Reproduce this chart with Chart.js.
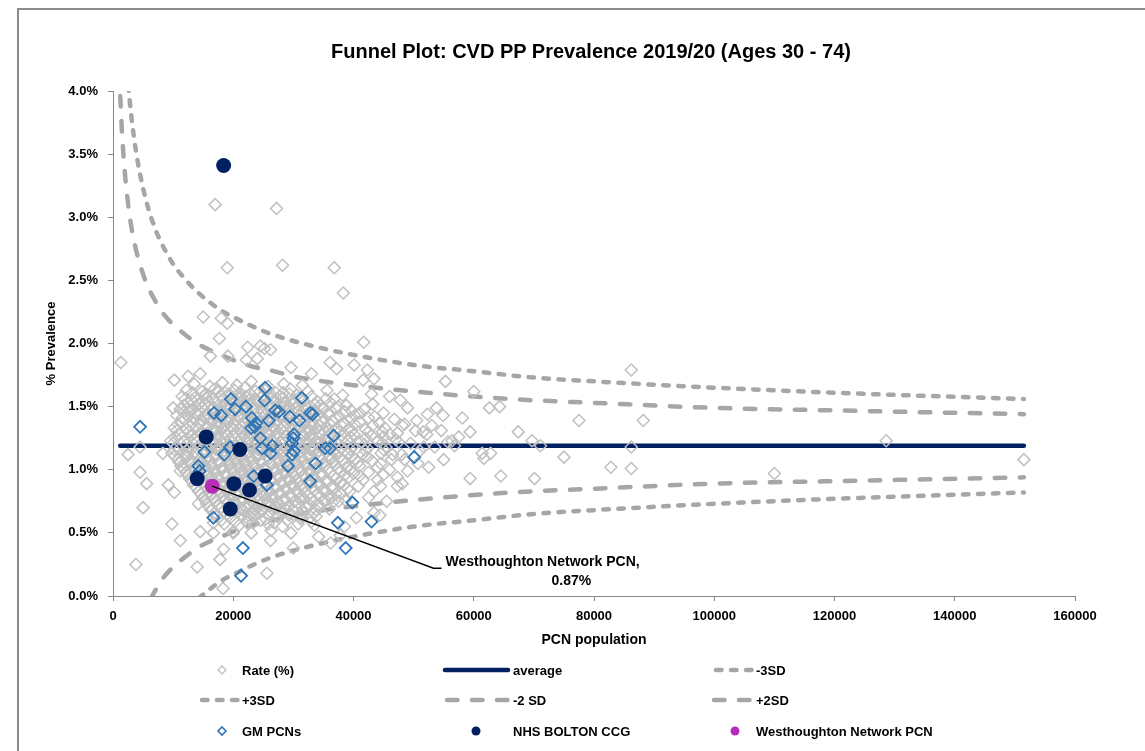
<!DOCTYPE html>
<html>
<head>
<meta charset="utf-8">
<script src="https://cdn.jsdelivr.net/npm/chart.js@4"></script>
<style>
  html, body { margin: 0; padding: 0; background: #fff; }
  #wrap { position: relative; width: 1145px; height: 751px; overflow: hidden; }
  #chart, #ov { position: absolute; left: 0; top: 0; }
  #ov { pointer-events: none; font-family: "Liberation Sans", Arial, sans-serif; }
  #ov text { font-weight: bold; fill: #000; }
</style>
</head>
<body>
<div id="wrap">
  <canvas id="chart" width="1145" height="751"></canvas>
  <svg id="ov" width="1145" height="751">
    <line x1="18" y1="9" x2="18" y2="751" stroke="#8c8c8c" stroke-width="2"/>
    <line x1="17" y1="9" x2="1145" y2="9" stroke="#8c8c8c" stroke-width="2"/>
    <text x="591" y="58" text-anchor="middle" font-size="20">Funnel Plot: CVD PP Prevalence 2019/20 (Ages 30 - 74)</text>
    <g font-size="13" dominant-baseline="central">
      <polygon points="222,666 226,670 222,674 218,670" fill="none" stroke="#bfbfbf" stroke-width="1.3"/>
      <text x="242" y="670">Rate (%)</text>
      <line x1="445" y1="670" x2="508" y2="670" stroke="#002060" stroke-width="4.5" stroke-linecap="round"/>
      <text x="513" y="670">average</text>
      <line x1="716" y1="670" x2="752" y2="670" stroke="#a6a6a6" stroke-width="4.5" stroke-linecap="round" stroke-dasharray="5.5 9.5"/>
      <text x="756" y="670">-3SD</text>

      <line x1="202" y1="700" x2="238" y2="700" stroke="#a6a6a6" stroke-width="4.5" stroke-linecap="round" stroke-dasharray="5.5 9.5"/>
      <text x="242" y="700">+3SD</text>
      <line x1="447" y1="700" x2="509" y2="700" stroke="#a6a6a6" stroke-width="4.5" stroke-linecap="round" stroke-dasharray="10.5 14.5"/>
      <text x="513" y="700">-2 SD</text>
      <line x1="714" y1="700" x2="752" y2="700" stroke="#a6a6a6" stroke-width="4.5" stroke-linecap="round" stroke-dasharray="10.5 14.5"/>
      <text x="756" y="700">+2SD</text>

      <polygon points="222,727 226,731 222,735 218,731" fill="none" stroke="#2e75b6" stroke-width="1.6"/>
      <text x="242" y="731">GM PCNs</text>
      <circle cx="476" cy="731" r="4.5" fill="#002060"/>
      <text x="513" y="731">NHS BOLTON CCG</text>
      <circle cx="735" cy="731" r="4.5" fill="#b82db8"/>
      <text x="756" y="731">Westhoughton Network PCN</text>
    </g>
  </svg>
</div>
<script>
// all x values in thousands of PCN population, y values in % prevalence

const averageRate = 1.19;
const avgX = [1.2, 151.5];

// control limits
const funnelX = [1.2, 1.5, 2, 2.5, 3, 3.5, 4, 5, 6, 7, 8, 9, 10, 12, 14, 16, 18, 20, 23, 26, 30, 35, 40, 50, 60, 70, 80, 100, 120, 151.5];
const plus3 = [5.35, 4.91, 4.41, 4.07, 3.82, 3.63, 3.47, 3.23, 3.05, 2.91, 2.80, 2.71, 2.63, 2.51, 2.41, 2.33, 2.26, 2.21, 2.14, 2.08, 2.02, 1.96, 1.91, 1.83, 1.78, 1.73, 1.70, 1.65, 1.61, 1.56];
const plus2 = [3.96, 3.67, 3.34, 3.11, 2.94, 2.81, 2.71, 2.55, 2.43, 2.34, 2.26, 2.20, 2.15, 2.07, 2.00, 1.95, 1.91, 1.87, 1.82, 1.79, 1.74, 1.70, 1.67, 1.62, 1.58, 1.55, 1.53, 1.49, 1.47, 1.44];
const minus2 = [-1.58, -1.29, -0.96, -0.73, -0.56, -0.43, -0.33, -0.17, -0.05, 0.04, 0.12, 0.18, 0.23, 0.31, 0.38, 0.43, 0.47, 0.51, 0.56, 0.59, 0.64, 0.68, 0.71, 0.76, 0.80, 0.83, 0.85, 0.89, 0.91, 0.94];
const minus3 = [-2.97, -2.53, -2.03, -1.69, -1.44, -1.25, -1.09, -0.85, -0.67, -0.53, -0.42, -0.33, -0.25, -0.13, -0.03, 0.05, 0.12, 0.17, 0.24, 0.30, 0.36, 0.42, 0.47, 0.55, 0.60, 0.65, 0.68, 0.73, 0.77, 0.82];

// all PCNs (England)
const ratePts = [
  // dense core
  [13.5,1.68],[16.1,1.66],[18.2,1.69],[20.6,1.67],[23.0,1.70],[25.8,1.66],[28.4,1.68],[31.5,1.67],
  [12.2,1.63],[14.8,1.62],[16.9,1.64],[18.6,1.61],[20.2,1.63],[21.9,1.65],[23.7,1.62],[25.3,1.63],[27.1,1.61],[29.5,1.64],[32.4,1.62],[35.6,1.63],
  [11.5,1.58],[13.6,1.57],[15.2,1.59],[16.6,1.56],[18.0,1.58],[19.3,1.60],[20.8,1.57],[22.1,1.58],[23.5,1.56],[24.9,1.59],[26.4,1.57],[27.8,1.58],[29.3,1.60],[30.9,1.57],[33.0,1.58],[35.4,1.56],[38.2,1.59],
  [12.4,1.53],[14.3,1.52],[15.8,1.54],[17.2,1.53],[18.7,1.51],[20.1,1.53],[21.5,1.54],[22.8,1.52],[24.2,1.53],[25.6,1.51],[27.1,1.54],[28.5,1.53],[30.0,1.52],[31.6,1.54],[33.5,1.52],[36.2,1.53],[38.8,1.51],
  [11.2,1.48],[13.1,1.47],[14.9,1.49],[16.4,1.48],[17.8,1.46],[19.1,1.48],[20.5,1.49],[21.9,1.47],[23.3,1.48],[24.7,1.46],[26.0,1.49],[27.4,1.48],[28.9,1.47],[30.3,1.49],[31.8,1.48],[33.3,1.46],[35.0,1.48],[37.0,1.49],[39.6,1.47],[41.8,1.48],
  [10.6,1.43],[12.5,1.42],[14.1,1.44],[15.6,1.43],[17.1,1.41],[18.4,1.43],[19.8,1.44],[21.2,1.42],[22.6,1.43],[24.0,1.41],[25.3,1.44],[26.7,1.43],[28.1,1.42],[29.6,1.44],[31.1,1.43],[32.6,1.41],[34.1,1.43],[35.8,1.44],[37.7,1.42],[40.2,1.43],[43.5,1.42],
  [11.4,1.38],[13.3,1.37],[14.8,1.39],[16.3,1.38],[17.7,1.36],[19.1,1.38],[20.4,1.39],[21.8,1.37],[23.2,1.38],[24.6,1.36],[26.0,1.39],[27.3,1.38],[28.8,1.37],[30.2,1.39],[31.7,1.38],[33.2,1.36],[34.8,1.38],[36.5,1.39],[38.4,1.37],[41.0,1.38],[44.3,1.37],
  [10.2,1.33],[12.2,1.32],[13.9,1.34],[15.4,1.33],[16.9,1.31],[18.3,1.33],[19.7,1.34],[21.1,1.32],[22.5,1.33],[23.9,1.31],[25.3,1.34],[26.6,1.33],[28.0,1.32],[29.5,1.34],[30.9,1.33],[32.4,1.31],[33.9,1.33],[35.5,1.34],[37.3,1.32],[39.3,1.33],[42.0,1.32],[45.2,1.33],
  [11.0,1.28],[12.9,1.27],[14.5,1.29],[16.0,1.28],[17.5,1.26],[18.9,1.28],[20.3,1.29],[21.7,1.27],[23.1,1.28],[24.5,1.26],[25.9,1.29],[27.3,1.28],[28.7,1.27],[30.1,1.29],[31.6,1.28],[33.1,1.26],[34.6,1.28],[36.2,1.29],[38.0,1.27],[40.1,1.28],[43.0,1.27],[46.1,1.28],
  [9.6,1.23],[11.8,1.22],[13.6,1.24],[15.2,1.23],[16.7,1.21],[18.1,1.23],[19.5,1.24],[20.9,1.22],[22.3,1.23],[23.7,1.21],[25.1,1.24],[26.5,1.23],[27.9,1.22],[29.3,1.24],[30.8,1.23],[32.3,1.21],[33.8,1.23],[35.4,1.24],[37.1,1.22],[39.0,1.23],[41.2,1.22],[44.0,1.23],[47.5,1.22],
  [10.5,1.18],[12.6,1.17],[14.3,1.19],[15.9,1.18],[17.4,1.16],[18.8,1.18],[20.2,1.19],[21.6,1.17],[23.0,1.18],[24.4,1.16],[25.8,1.19],[27.2,1.18],[28.6,1.17],[30.0,1.19],[31.5,1.18],[33.0,1.16],[34.5,1.18],[36.1,1.19],[37.9,1.17],[39.8,1.18],[42.3,1.17],[45.4,1.18],
  [9.8,1.13],[11.9,1.12],[13.7,1.14],[15.3,1.13],[16.8,1.11],[18.2,1.13],[19.6,1.14],[21.0,1.12],[22.4,1.13],[23.8,1.11],[25.2,1.14],[26.6,1.13],[28.0,1.12],[29.4,1.14],[30.9,1.13],[32.4,1.11],[33.9,1.13],[35.5,1.14],[37.2,1.12],[39.1,1.13],[41.5,1.12],[44.6,1.13],[48.0,1.12],
  [10.8,1.08],[12.8,1.07],[14.5,1.09],[16.1,1.08],[17.6,1.06],[19.0,1.08],[20.4,1.09],[21.8,1.07],[23.2,1.08],[24.6,1.06],[26.0,1.09],[27.4,1.08],[28.8,1.07],[30.2,1.09],[31.7,1.08],[33.2,1.06],[34.7,1.08],[36.4,1.09],[38.2,1.07],[40.3,1.08],[43.1,1.07],[46.3,1.08],
  [11.3,1.03],[13.3,1.02],[15.0,1.04],[16.5,1.03],[18.0,1.01],[19.4,1.03],[20.8,1.04],[22.2,1.02],[23.6,1.03],[25.0,1.01],[26.4,1.04],[27.8,1.03],[29.2,1.02],[30.6,1.04],[32.1,1.03],[33.6,1.01],[35.2,1.03],[36.9,1.04],[38.8,1.02],[41.0,1.03],[44.0,1.02],
  [12.1,0.98],[14.0,0.97],[15.6,0.99],[17.1,0.98],[18.6,0.96],[20.0,0.98],[21.4,0.99],[22.8,0.97],[24.2,0.98],[25.6,0.96],[27.0,0.99],[28.4,0.98],[29.8,0.97],[31.3,0.99],[32.8,0.98],[34.4,0.96],[36.1,0.98],[37.9,0.99],[40.0,0.97],[42.5,0.98],
  [12.7,0.93],[14.6,0.92],[16.2,0.94],[17.7,0.93],[19.2,0.91],[20.6,0.93],[22.0,0.94],[23.4,0.92],[24.8,0.93],[26.2,0.91],[27.6,0.94],[29.0,0.93],[30.5,0.92],[32.0,0.94],[33.6,0.93],[35.3,0.91],[37.1,0.93],[39.2,0.94],[41.6,0.92],
  [13.4,0.88],[15.3,0.87],[16.9,0.89],[18.4,0.88],[19.8,0.86],[21.2,0.88],[22.6,0.89],[24.0,0.87],[25.4,0.88],[26.8,0.86],[28.2,0.89],[29.7,0.88],[31.2,0.87],[32.8,0.89],[34.5,0.88],[36.3,0.86],[38.4,0.88],[40.8,0.87],
  [14.2,0.83],[16.0,0.82],[17.6,0.84],[19.1,0.83],[20.5,0.81],[21.9,0.83],[23.3,0.84],[24.7,0.82],[26.1,0.83],[27.5,0.81],[28.9,0.84],[30.4,0.83],[31.9,0.82],[33.5,0.84],[35.2,0.83],[37.1,0.81],[39.4,0.83],
  [14.9,0.78],[16.7,0.77],[18.3,0.79],[19.8,0.78],[21.2,0.76],[22.6,0.78],[24.0,0.79],[25.4,0.77],[26.8,0.78],[28.2,0.76],[29.7,0.79],[31.2,0.78],[32.8,0.77],[34.5,0.79],[36.4,0.78],[38.6,0.76],
  [15.5,0.73],[17.4,0.72],[19.0,0.74],[20.5,0.73],[22.0,0.71],[23.4,0.73],[24.8,0.74],[26.2,0.72],[27.7,0.73],[29.2,0.71],[30.8,0.74],[32.5,0.73],[34.3,0.72],[36.5,0.74],
  [16.3,0.68],[18.3,0.67],[20.0,0.69],[21.7,0.68],[23.3,0.66],[24.9,0.68],[26.5,0.69],[28.2,0.67],[29.9,0.68],[31.7,0.66],[33.8,0.68],[36.0,0.69],
  [17.2,0.63],[19.5,0.62],[21.5,0.64],[23.5,0.63],[25.4,0.61],[27.3,0.63],[29.3,0.64],[31.4,0.62],[33.8,0.63],
  [18.5,0.57],[21.0,0.56],[23.3,0.58],[25.8,0.57],[28.2,0.55],[30.8,0.57],[33.5,0.56],
  [20.0,0.51],[23.0,0.50],[26.3,0.52],[29.6,0.50],
  // core, in-between rows
  [13.2,1.61],[15.5,1.60],[17.6,1.62],[19.5,1.59],[21.1,1.61],[22.8,1.60],[24.5,1.62],[26.2,1.60],[28.3,1.61],[30.6,1.59],
  [12.0,1.56],[14.0,1.55],[15.5,1.57],[16.9,1.54],[18.4,1.56],[19.9,1.55],[21.2,1.57],[22.6,1.55],[24.0,1.54],[25.4,1.56],[26.8,1.55],[28.2,1.57],[29.8,1.55],[31.5,1.56],[34.0,1.54],[36.8,1.56],
  [11.8,1.51],[13.7,1.50],[15.2,1.52],[16.7,1.49],[18.1,1.51],[19.5,1.50],[20.8,1.52],[22.2,1.50],[23.6,1.49],[25.0,1.51],[26.4,1.50],[27.8,1.52],[29.2,1.50],[30.8,1.51],[32.5,1.49],[34.5,1.51],[37.5,1.50],
  [11.9,1.46],[13.8,1.45],[15.3,1.47],[16.8,1.44],[18.1,1.46],[19.5,1.45],[20.9,1.47],[22.3,1.45],[23.7,1.44],[25.0,1.46],[26.4,1.45],[27.8,1.47],[29.3,1.45],[30.7,1.46],[32.2,1.44],[33.8,1.46],[35.8,1.45],[38.5,1.46],[41.0,1.45],
  [11.5,1.41],[13.5,1.40],[15.0,1.42],[16.5,1.39],[17.9,1.41],[19.3,1.40],[20.7,1.42],[22.1,1.40],[23.5,1.39],[24.9,1.41],[26.3,1.40],[27.7,1.42],[29.1,1.40],[30.6,1.41],[32.0,1.39],[33.6,1.41],[35.2,1.40],[37.0,1.41],[39.6,1.40],[42.5,1.41],
  [10.8,1.36],[12.8,1.35],[14.4,1.37],[15.9,1.34],[17.3,1.36],[18.8,1.35],[20.1,1.37],[21.5,1.35],[22.9,1.34],[24.3,1.36],[25.7,1.35],[27.0,1.37],[28.4,1.35],[29.9,1.36],[31.3,1.34],[32.8,1.36],[34.4,1.35],[36.1,1.36],[38.0,1.35],[40.2,1.36],[43.2,1.35],
  [10.6,1.31],[12.6,1.30],[14.2,1.32],[15.7,1.29],[17.2,1.31],[18.6,1.30],[20.0,1.32],[21.4,1.30],[22.8,1.29],[24.2,1.31],[25.6,1.30],[27.0,1.32],[28.4,1.30],[29.8,1.31],[31.3,1.29],[32.8,1.31],[34.3,1.30],[35.9,1.31],[37.6,1.30],[39.7,1.31],[42.5,1.30],
  [10.3,1.26],[12.3,1.25],[14.0,1.27],[15.6,1.24],[17.1,1.26],[18.5,1.25],[19.9,1.27],[21.3,1.25],[22.7,1.24],[24.1,1.26],[25.5,1.25],[26.9,1.27],[28.3,1.25],[29.7,1.26],[31.2,1.24],[32.7,1.26],[34.2,1.25],[35.8,1.26],[37.5,1.25],[39.5,1.26],[42.0,1.25],[45.0,1.26],
  [10.0,1.21],[12.2,1.20],[14.0,1.22],[15.5,1.19],[17.0,1.21],[18.4,1.20],[19.8,1.22],[21.2,1.20],[22.6,1.19],[24.0,1.21],[25.4,1.20],[26.8,1.22],[28.2,1.20],[29.6,1.21],[31.1,1.19],[32.6,1.21],[34.1,1.20],[35.7,1.21],[37.5,1.20],[39.4,1.21],[41.8,1.20],[44.8,1.21],
  [10.2,1.16],[12.3,1.15],[14.0,1.17],[15.6,1.14],[17.1,1.16],[18.5,1.15],[19.9,1.17],[21.3,1.15],[22.7,1.14],[24.1,1.16],[25.5,1.15],[26.9,1.17],[28.3,1.15],[29.7,1.16],[31.2,1.14],[32.7,1.16],[34.2,1.15],[35.8,1.16],[37.5,1.15],[39.5,1.16],[42.0,1.15],[45.0,1.16],
  [10.3,1.11],[12.3,1.10],[14.1,1.12],[15.7,1.09],[17.2,1.11],[18.6,1.10],[20.0,1.12],[21.4,1.10],[22.8,1.09],[24.2,1.11],[25.6,1.10],[27.0,1.12],[28.4,1.10],[29.8,1.11],[31.3,1.09],[32.8,1.11],[34.3,1.10],[35.9,1.11],[37.7,1.10],[39.7,1.11],[42.3,1.10],
  [11.0,1.06],[13.0,1.05],[14.7,1.07],[16.3,1.04],[17.8,1.06],[19.2,1.05],[20.6,1.07],[22.0,1.05],[23.4,1.04],[24.8,1.06],[26.2,1.05],[27.6,1.07],[29.0,1.05],[30.4,1.06],[31.9,1.04],[33.4,1.06],[35.0,1.05],[36.7,1.06],[38.6,1.05],[40.8,1.06],
  [11.7,1.01],[13.6,1.00],[15.3,1.02],[16.8,0.99],[18.3,1.01],[19.7,1.00],[21.1,1.02],[22.5,1.00],[23.9,0.99],[25.3,1.01],[26.7,1.00],[28.1,1.02],[29.5,1.00],[31.0,1.01],[32.5,0.99],[34.0,1.01],[35.7,1.00],[37.4,1.01],[39.4,1.00],
  [12.4,0.96],[14.3,0.95],[15.9,0.97],[17.4,0.94],[18.9,0.96],[20.3,0.95],[21.7,0.97],[23.1,0.95],[24.5,0.94],[25.9,0.96],[27.3,0.95],[28.7,0.97],[30.2,0.95],[31.7,0.96],[33.2,0.94],[34.9,0.96],[36.6,0.95],[38.6,0.96],[41.0,0.95],
  [13.1,0.91],[15.0,0.90],[16.6,0.92],[18.1,0.89],[19.5,0.91],[20.9,0.90],[22.3,0.92],[23.7,0.90],[25.1,0.89],[26.5,0.91],[27.9,0.90],[29.4,0.92],[30.9,0.90],[32.4,0.91],[34.0,0.89],[35.8,0.91],[37.8,0.90],
  [13.8,0.86],[15.7,0.85],[17.3,0.87],[18.8,0.84],[20.2,0.86],[21.6,0.85],[23.0,0.87],[24.4,0.85],[25.8,0.84],[27.2,0.86],[28.6,0.85],[30.1,0.87],[31.6,0.85],[33.2,0.86],[34.9,0.84],[36.8,0.86],[39.0,0.85],
  [14.6,0.81],[16.4,0.80],[18.0,0.82],[19.5,0.79],[20.9,0.81],[22.3,0.80],[23.7,0.82],[25.1,0.80],[26.5,0.79],[27.9,0.81],[29.3,0.80],[30.8,0.82],[32.4,0.80],[34.0,0.81],[35.9,0.79],[38.0,0.81],
  [15.3,0.76],[17.1,0.75],[18.7,0.77],[20.2,0.74],[21.6,0.76],[23.0,0.75],[24.4,0.77],[25.8,0.75],[27.2,0.74],[28.7,0.76],[30.2,0.75],[31.8,0.77],[33.5,0.75],[35.3,0.76],[37.5,0.75],
  [16.0,0.71],[17.9,0.70],[19.5,0.72],[21.1,0.69],[22.6,0.71],[24.1,0.70],[25.6,0.72],[27.1,0.70],[28.7,0.69],[30.3,0.71],[32.1,0.70],[34.0,0.71],
  [17.0,0.66],[19.0,0.65],[20.8,0.67],[22.5,0.64],[24.2,0.66],[25.9,0.65],[27.7,0.67],[29.5,0.65],[31.4,0.64],[33.5,0.66],
  [18.0,0.60],[20.3,0.59],[22.5,0.61],[24.6,0.60],[26.8,0.58],[29.0,0.60],[31.2,0.61],[33.0,0.59],
  // upper scatter
  [17.0,3.10],[27.2,3.07],[19.0,2.60],[28.2,2.62],[36.8,2.60],[38.3,2.40],[15.0,2.21],[18.0,2.20],[19.0,2.16],[17.7,2.04],
  [22.4,1.97],[24.5,1.98],[25.2,1.96],[16.2,1.90],[19.1,1.90],[24.0,1.88],[29.6,1.81],[36.1,1.85],[37.2,1.80],[40.1,1.83],
  [41.7,2.01],[42.3,1.79],[1.3,1.85],[22.2,1.87],[26.2,1.95],[14.5,1.76],[12.5,1.74],[10.2,1.71],[33.0,1.76],[43.4,1.72],[41.6,1.71],
  // 40k - 65k
  [46.0,1.58],[49.0,1.49],[52.3,1.44],[54.9,1.43],[58.1,1.41],[59.4,1.30],[50.3,1.31],[48.1,1.35],[47.3,1.29],[52.2,1.28],
  [54.6,1.31],[55.7,1.22],[56.8,1.19],[62.8,1.13],[61.7,1.09],[59.4,0.93],[64.5,0.95],[60.0,1.62],[62.6,1.49],[64.3,1.50],
  [55.3,1.70],[45.0,0.96],[47.3,0.94],[44.5,0.87],[43.4,0.83],[44.4,0.64],[50.7,1.05],[47.3,0.87],[48.1,0.89],[51.7,1.18],
  [56.4,1.23],[61.4,1.13],[51.6,1.30],[43.2,1.52],[45.0,1.45],[46.8,1.40],[48.5,1.36],[47.0,1.24],[49.5,1.21],[51.0,1.15],
  [53.5,1.18],[50.5,1.39],[44.5,1.05],[46.0,1.00],[49.0,0.99],[52.5,1.02],[55.0,1.08],[57.5,1.26],[53.0,1.35],[44.0,0.92],
  [42.5,0.78],[45.5,0.75],[46.5,1.12],[48.5,1.08],[44.8,1.30],[43.0,1.60],[47.8,1.55],[53.8,1.49],
  // far right
  [86.2,1.79],[88.2,1.39],[77.5,1.39],[75.0,1.10],[82.8,1.02],[86.2,1.01],[86.2,1.18],[70.1,0.93],[67.4,1.30],[69.7,1.23],
  [71.1,1.19],[110.0,0.97],[128.6,1.23],[151.5,1.08],
  // small PCNs
  [2.5,1.12],[4.5,1.18],[4.5,0.98],[5.6,0.89],[8.3,1.13],[9.2,0.88],[10.2,0.82],[11.2,0.99],[12.3,1.12],[5.0,0.70],
  [9.8,0.57],[11.2,0.44],[3.8,0.25],[14.0,0.23],[14.2,0.73],[10.0,1.49],[12.7,1.47],[13.1,1.55],
  // low scatter
  [16.7,0.50],[18.4,0.37],[17.8,0.29],[25.6,0.18],[26.2,0.44],[30.0,0.38],[34.2,0.47],[18.3,0.06],[36.2,0.42],[37.8,0.48],
  [23.5,0.69],[22.3,0.58],[20.0,0.50],[16.7,0.58],[14.5,0.51],[43.4,0.66],[40.5,0.62],[38.5,0.55]
];

// Greater Manchester PCNs
const gmPts = [
  [4.5,1.34],[16.8,1.45],[18.0,1.43],[19.6,1.56],[20.3,1.48],[22.1,1.50],[23.1,1.41],[23.0,1.33],[23.8,1.37],[25.3,1.65],
  [25.2,1.55],[27.0,1.47],[27.6,1.46],[29.4,1.42],[31.0,1.39],[31.4,1.57],[32.8,1.45],[33.2,1.44],[25.9,1.39],[24.5,1.25],
  [24.8,1.17],[26.5,1.19],[26.2,1.13],[30.0,1.25],[29.8,1.21],[29.8,1.12],[29.1,1.03],[33.7,1.05],[36.7,1.27],[35.3,1.17],
  [36.1,1.17],[32.8,0.91],[25.6,0.88],[19.5,1.18],[18.5,1.12],[15.2,1.14],[14.2,1.03],[14.4,0.99],[16.7,0.62],[21.6,0.38],
  [21.3,0.16],[39.8,0.74],[37.4,0.58],[43.0,0.59],[38.7,0.38],[50.1,1.10],[30.1,1.28],[30.1,1.15],[23.4,0.95],[23.6,1.34]
];

// NHS Bolton CCG PCNs
const boltonPts = [[18.4,3.41],[15.5,1.26],[21.1,1.16],[14.0,0.93],[20.1,0.89],[22.7,0.84],[25.3,0.95],[19.5,0.69]];

const westPts = [[16.5,0.87]];
const calloutLabel = ["Westhoughton Network PCN,", "0.87%"];
const calloutAt = [53.3, 0.22];

const toXY = pts => pts.map(p => ({ x: p[0] * 1000, y: p[1] }));
const lineXY = ys => funnelX.map((x, i) => ({ x: x * 1000, y: ys[i] }));

const FONT = "'Liberation Sans', Arial, sans-serif";
const AXIS_GREY = "#868686";
const LIMIT_GREY = "#a6a6a6";

function limitLine(label, ys, dash) {
  return {
    label: label,
    data: lineXY(ys),
    showLine: true,
    pointRadius: 0,
    borderColor: LIMIT_GREY,
    borderWidth: 4.5,
    borderDash: dash,
    borderCapStyle: "round",
    cubicInterpolationMode: "monotone",
    order: 10
  };
}

const westIndex = 8;

const calloutPlugin = {
  id: "callout",
  afterDatasetsDraw(chart) {
    const pt = chart.getDatasetMeta(westIndex).data[0];
    if (!pt) return;
    const ctx = chart.ctx;
    const ex = chart.scales.x.getPixelForValue(calloutAt[0] * 1000);
    const ey = chart.scales.y.getPixelForValue(calloutAt[1]);
    ctx.save();
    ctx.strokeStyle = "#000";
    ctx.lineWidth = 1.3;
    ctx.beginPath();
    ctx.moveTo(pt.x, pt.y);
    ctx.lineTo(ex, ey);
    ctx.lineTo(ex + 8, ey);
    ctx.stroke();
    ctx.fillStyle = "#000";
    ctx.font = "bold 14px " + FONT;
    ctx.textBaseline = "middle";
    ctx.textAlign = "left";
    ctx.fillText(calloutLabel[0], ex + 12, ey - 6);
    ctx.fillText(calloutLabel[1], ex + 118, ey + 13);
    ctx.restore();
  }
};

new Chart(document.getElementById("chart"), {
  type: "scatter",
  data: {
    datasets: [
      {
        label: "average",
        data: avgX.map(x => ({ x: x * 1000, y: averageRate })),
        showLine: true,
        pointRadius: 0,
        borderColor: "#002060",
        borderWidth: 4.5,
        borderCapStyle: "round",
        order: 11
      },
      limitLine("-3SD", minus3, [5.5, 9.5]),
      limitLine("+3SD", plus3, [5.5, 9.5]),
      limitLine("-2 SD", minus2, [10.5, 14.5]),
      limitLine("+2SD", plus2, [10.5, 14.5]),
      {
        label: "Rate (%)",
        data: toXY(ratePts),
        pointStyle: "rectRot",
        pointRadius: 6,
        borderColor: "#c0c0c0",
        backgroundColor: "rgba(0,0,0,0)",
        borderWidth: 1.5,
        order: 5
      },
      {
        label: "GM PCNs",
        data: toXY(gmPts),
        pointStyle: "rectRot",
        pointRadius: 6,
        borderColor: "#2e75b6",
        backgroundColor: "rgba(0,0,0,0)",
        borderWidth: 1.8,
        order: 3
      },
      {
        label: "NHS BOLTON CCG",
        data: toXY(boltonPts),
        pointRadius: 7.5,
        borderWidth: 0,
        backgroundColor: "#002060",
        order: 2
      },
      {
        label: "Westhoughton Network PCN",
        data: toXY(westPts),
        pointRadius: 7.5,
        borderWidth: 0,
        backgroundColor: "#b82db8",
        order: 1
      }
    ]
  },
  options: {
    responsive: false,
    animation: false,
    events: [],
    layout: { padding: { left: 40, right: 70, top: 91, bottom: 98 } },
    plugins: {
      legend: { display: false },
      tooltip: { enabled: false },
      title: { display: false }
    },
    scales: {
      x: {
        type: "linear",
        min: 0,
        max: 160000,
        afterFit(s) { s.height = 57; },
        ticks: {
          stepSize: 20000,
          maxRotation: 0,
          padding: 8,
          color: "#000",
          font: { family: FONT, size: 13, weight: "bold" },
          callback: v => String(v)
        },
        grid: { drawOnChartArea: false, drawTicks: true, tickLength: 5, color: AXIS_GREY },
        border: { display: true, color: AXIS_GREY, width: 1 },
        title: {
          display: true,
          text: "PCN population",
          color: "#000",
          font: { family: FONT, size: 14, weight: "bold" }
        }
      },
      y: {
        min: 0,
        max: 4,
        afterFit(s) { s.width = 73; },
        ticks: {
          stepSize: 0.5,
          padding: 10,
          color: "#000",
          font: { family: FONT, size: 13, weight: "bold" },
          callback: v => v.toFixed(1) + "%"
        },
        grid: { drawOnChartArea: false, drawTicks: true, tickLength: 5, color: AXIS_GREY },
        border: { display: true, color: AXIS_GREY, width: 1 },
        title: {
          display: true,
          text: "% Prevalence",
          color: "#000",
          font: { family: FONT, size: 13, weight: "bold" }
        }
      }
    }
  },
  plugins: [calloutPlugin]
});
</script>
</body>
</html>
